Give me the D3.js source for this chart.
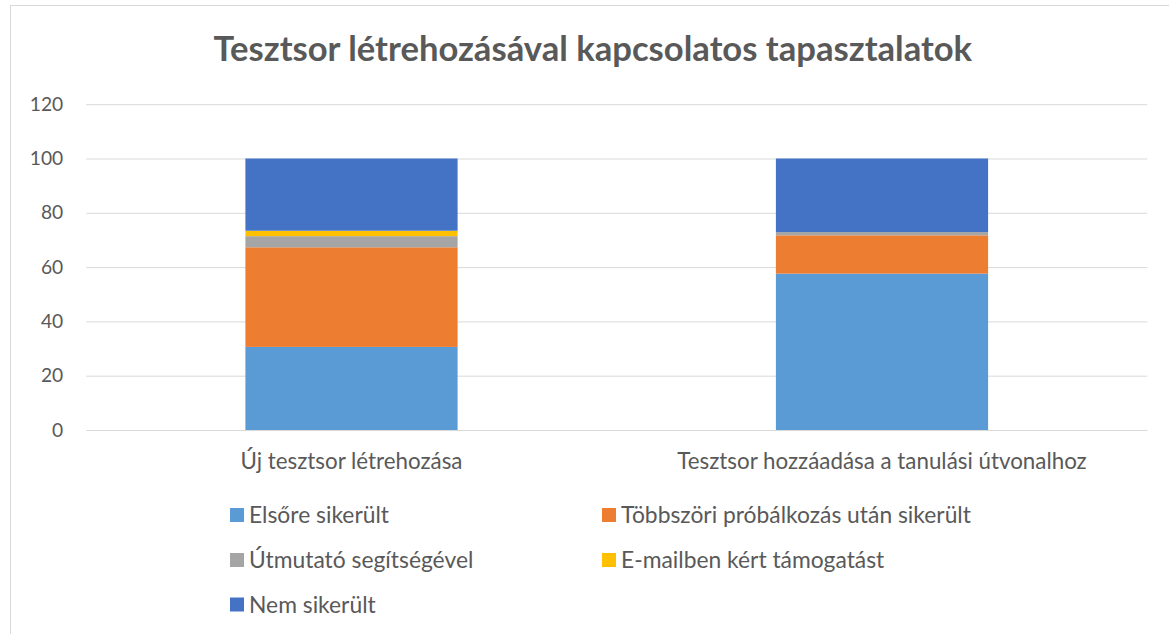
<!DOCTYPE html>
<html>
<head>
<meta charset="utf-8">
<script src="https://cdn.jsdelivr.net/npm/d3@7"></script>
<style>
  html, body { margin: 0; padding: 0; background: #fff; }
  svg { display: block; }
  text { font-family: Lato, "Open Sans", "Liberation Sans", sans-serif; fill: #595959; }
</style>
</head>
<body>
<svg id="chart" width="1169" height="634"></svg>
<script>
const title = "Tesztsor létrehozásával kapcsolatos tapasztalatok";
const categories = ["Új tesztsor létrehozása", "Tesztsor hozzáadása a tanulási útvonalhoz"];
const seriesNames = ["Elsőre sikerült", "Többszöri próbálkozás után sikerült", "Útmutató segítségével", "E-mailben kért támogatást", "Nem sikerült"];
const seriesColors = ["#5B9BD5", "#ED7D31", "#A5A5A5", "#FFC000", "#4472C4"];
const elsore = [30.6, 57.6];
const tobbszori = [36.7, 14.1];
const utmutato = [4.1, 1.2];
const email = [2.0, 0];
const nem = [26.6, 27.1];
const yTicks = [0, 20, 40, 60, 80, 100, 120];

const seriesValues = [elsore, tobbszori, utmutato, email, nem];
const rows = categories.map((c, i) => {
  const r = { cat: c };
  seriesNames.forEach((s, k) => r[s] = seriesValues[k][i]);
  return r;
});

const svg = d3.select("#chart");

// chart border
svg.append("rect").attr("x", 10.5).attr("y", 5.5).attr("width", 1200).attr("height", 700)
  .attr("fill", "none").attr("stroke", "#D9D9D9").attr("stroke-width", 1);

const x = d3.scaleBand().domain(categories).range([86.25, 1147.25]).paddingInner(0.6).paddingOuter(0.3);
const y = d3.scaleLinear().domain([0, 120]).range([430, 104.2]);

// fitting helper
function fitSize(str, target, weight) {
  const t = svg.append("text").attr("font-size", 20).attr("font-weight", weight || "normal").text(str);
  const w = t.node().getComputedTextLength();
  t.remove();
  return 20 * target / w;
}
const labelSize = fitSize(categories[0], 222);
const legendSize = fitSize(seriesNames[1], 350);
const tickSize = fitSize("120", 33.5);
const titleSize = fitSize(title, 759, "bold");

// gridlines
const yAxis = d3.axisLeft(y).tickValues(yTicks).tickSize(-(1147.25 - 86.25)).tickPadding(23);
const gy = svg.append("g").attr("transform", "translate(86.25,0)").call(yAxis);
gy.select(".domain").remove();
gy.selectAll(".tick line").attr("stroke", "#D9D9D9").attr("stroke-width", 1);
gy.selectAll(".tick text").attr("font-size", tickSize).attr("fill", "#595959")
  .style("font-family", "Lato, 'Open Sans', sans-serif");

// stacked bars
const stack = d3.stack().keys(seriesNames);
const stacked = stack(rows);
svg.append("g").selectAll("g").data(stacked).join("g")
  .attr("fill", (d, i) => seriesColors[i])
  .selectAll("rect").data(d => d).join("rect")
  .attr("x", d => x(d.data.cat))
  .attr("width", x.bandwidth())
  .attr("y", d => y(d[1]))
  .attr("height", d => Math.max(0, y(d[0]) - y(d[1])));

// x axis labels
const xAxis = d3.axisBottom(x).tickSize(0).tickPadding(23);
const gx = svg.append("g").attr("transform", "translate(0,430)").call(xAxis);
gx.select(".domain").remove();
gx.selectAll(".tick text").attr("font-size", labelSize).attr("fill", "#595959")
  .style("font-family", "Lato, 'Open Sans', sans-serif");

// title
svg.append("text").attr("x", 592.8).attr("y", 60.7).attr("text-anchor", "middle")
  .attr("font-size", titleSize).attr("font-weight", "bold").text(title);

// legend
const legendCols = [230, 602];
const legendRows = [515, 560, 604.5];
const legend = svg.append("g").selectAll("g").data(seriesNames).join("g")
  .attr("transform", (d, i) => `translate(${legendCols[i % 2]},${legendRows[Math.floor(i / 2)]})`);
legend.append("rect").attr("x", 0).attr("y", -7).attr("width", 14).attr("height", 14)
  .attr("fill", (d, i) => seriesColors[i]);
legend.append("text").attr("x", 19).attr("y", 0).attr("dy", "0.36em")
  .attr("font-size", legendSize).text(d => d);
</script>
</body>
</html>
